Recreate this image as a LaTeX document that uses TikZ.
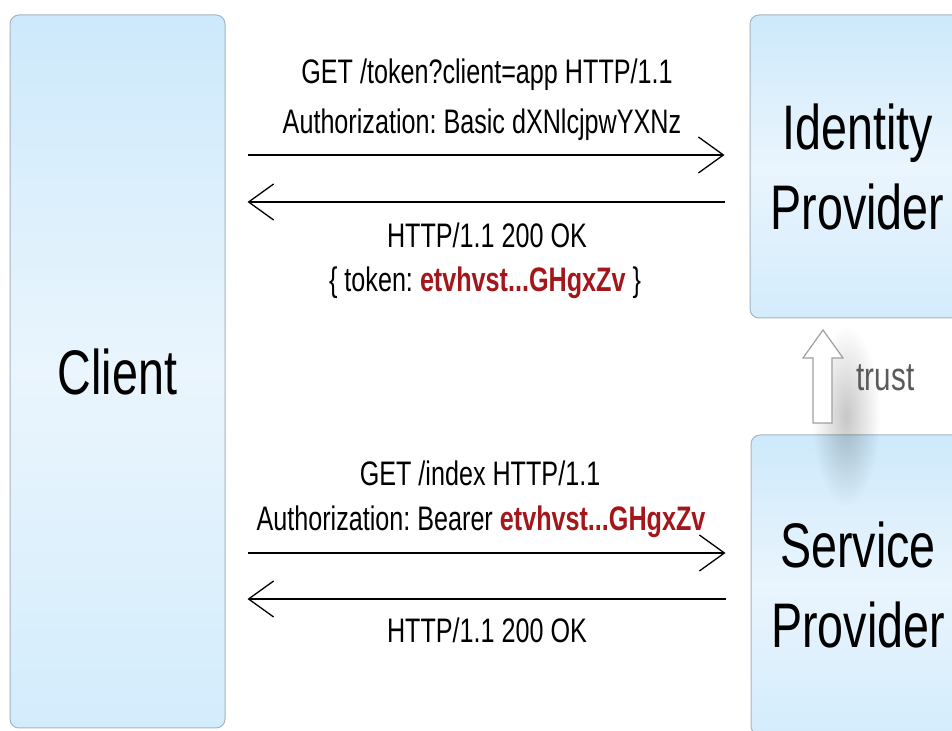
\documentclass[tikz,border=0pt]{standalone}
\usepackage{fontspec}
\setmainfont[FakeStretch=0.74]{Liberation Sans}
\frenchspacing
\usetikzlibrary{arrows.meta,fadings}
\tikzfading[name=softspot,inner color=transparent!0,outer color=transparent!100]
\definecolor{boxedge}{HTML}{A3B4C2}
\definecolor{boxtop}{HTML}{CDE9FB}
\definecolor{boxmid}{HTML}{EAF5FD}
\definecolor{boxbot}{HTML}{D3ECFC}
\definecolor{tokenred}{HTML}{A3161A}
\definecolor{trustgray}{HTML}{5A5A5A}
\tikzset{
  party/.style={draw=boxedge,line width=1bp,rounded corners=9bp,
    top color=boxtop,bottom color=boxbot,middle color=boxmid,
    font=\fontsize{63bp}{80bp}\selectfont,align=center,inner sep=0pt},
  msg/.style={font=\fontsize{34bp}{50bp}\selectfont,align=center,inner sep=0pt},
  call/.style={line width=1.3bp,-{Straight Barb[length=25bp,width=36bp,line width=1.3bp]}},
}
\newcommand{\tok}{\textcolor{tokenred}{\textbf{etvhvst...GHgxZv}}}
\begin{document}
\begin{tikzpicture}[>=latex,line join=bevel,]
\useasboundingbox (0bp,0bp) rectangle (952bp,731bp);
\clip (0bp,0bp) rectangle (952bp,731bp);
%%
\node (client) at (117.5bp,359.5bp) [party,minimum width=215bp,minimum height=713bp] {Client};
  \node (idp) at (857.5bp,564.5bp) [party,minimum width=215bp,minimum height=303bp] {Identity\\Provider};
  \node (sp) at (858.0bp,146.0bp) [party,minimum width=214bp,minimum height=300bp] {Service\\Provider};
  % soft shadow under the trust arrow
  \fill [black,opacity=0.22,path fading=softspot] (846bp,315bp) ellipse (34bp and 90bp);
  \coordinate (m1) at (0bp,576bp);
  \coordinate (m2) at (0bp,529bp);
  \coordinate (m3) at (0bp,178bp);
  \coordinate (m4) at (0bp,132bp);
  \draw [call,shorten <=22bp,shorten >=25bp] (client.east |- m1) -- (idp.west |- m1);
  \draw [call,shorten <=25bp,shorten >=22bp] (idp.west |- m2) -- (client.east |- m2);
  \draw [call,shorten <=22bp,shorten >=25bp] (client.east |- m3) -- (sp.west |- m3);
  \draw [call,shorten <=25bp,shorten >=22bp] (sp.west |- m4) -- (client.east |- m4);
  \node (q1) at (487.0bp,656.0bp) [msg] {GET /token?client=app HTTP/1.1};
  \node (q2) at (482.0bp,606.0bp) [msg] {Authorization: Basic dXNlcjpwYXNz};
  \node (r1) at (487.0bp,496.0bp) [msg] {HTTP/1.1 200 OK};
  \node (r2) at (485.0bp,448.0bp) [msg] {\{ token: \tok\ \}};
  \node (q3) at (480.0bp,258.0bp) [msg] {GET /index HTTP/1.1};
  \node (q4) at (481.0bp,209.0bp) [msg] {Authorization: Bearer \tok};
  \node (r3) at (487.0bp,101.0bp) [msg] {HTTP/1.1 200 OK};
  % hollow trust arrow between the providers
  \draw [draw=gray!75,fill=white,line width=1.2bp,line join=miter]
    (823bp,401bp) -- (843bp,373bp) -- (832bp,373bp) -- (832bp,308bp)
    -- (813bp,308bp) -- (813bp,373bp) -- (803bp,373bp) -- cycle;
  \node (trust) at (885.5bp,353.0bp) [msg,text=trustgray,font=\fontsize{40bp}{44bp}\selectfont] {trust};
%
\end{tikzpicture}
\end{document}
